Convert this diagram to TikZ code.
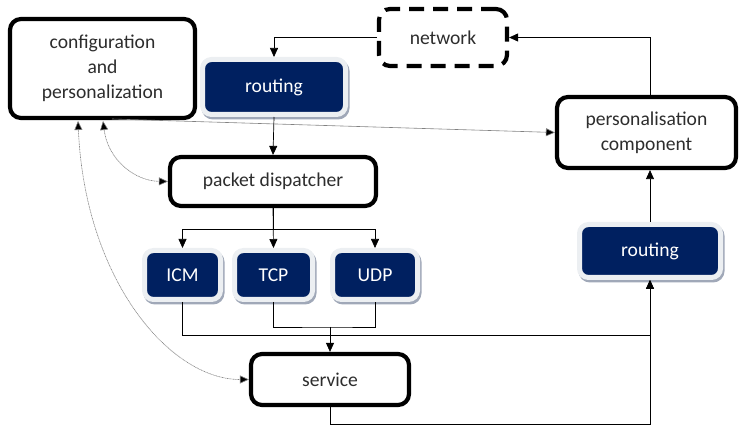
\documentclass[tikz,border=0pt]{standalone}
\usepackage{fontspec}
\setmainfont{Carlito}
\usetikzlibrary{arrows.meta,shadows}
\definecolor{navy}{RGB}{0,32,96}
\definecolor{halo}{RGB}{236,239,242}
\definecolor{shadowc}{RGB}{160,168,184}
\definecolor{txt}{RGB}{45,45,45}
\definecolor{conngray}{RGB}{130,130,130}
\tikzset{
  lbl/.style={font=\fontsize{19.6}{25}\selectfont, align=center},
  thickbox/.style={lbl, draw=black, line width=4.2pt, rounded corners=11pt, fill=white, text=txt, inner sep=0pt},
  dashbox/.style={thickbox, dash pattern=on 15pt off 9pt},
  navybox/.style={lbl, fill=navy, draw=halo, line width=5pt, rounded corners=9pt, text=white, inner sep=0pt,
     general shadow={fill=shadowc, draw=shadowc, line width=5pt, shadow xshift=1.5pt, shadow yshift=-2.5pt}},
  arr/.style={draw=black, line width=0.7pt, -{Triangle[length=9pt,width=8pt]}},
  plain/.style={draw=black, line width=0.7pt},
  grayarr/.style={draw=conngray, line width=0.6pt, -{Triangle[length=9pt,width=8pt,fill=black]}},
  dotarr/.style={draw=conngray, line width=0.6pt, dash pattern=on 1pt off 0.6pt, {Triangle[length=9pt,width=8pt,fill=black]}-{Triangle[length=9pt,width=8pt,fill=black]}},
}
\begin{document}
\begin{tikzpicture}[x=1pt, y=-1pt]
\useasboundingbox (0,0) rectangle (739,427);
% boxes
\node[thickbox, minimum width=185pt, minimum height=99pt] (config) at (102.5,68.5) {configuration\\and\\personalization};
\node[dashbox, minimum width=128pt, minimum height=57pt] (net) at (443,37.5) {network};
\node[thickbox, minimum width=206pt, minimum height=49pt] (disp) at (273,181.5) {packet dispatcher};
\node[thickbox, minimum width=179pt, minimum height=71pt] (pers) at (646.5,132.5) {personalisation\\component};
\node[thickbox, minimum width=158pt, minimum height=51pt] (serv) at (330,379.5) {service};
\node[navybox, minimum width=143pt, minimum height=55pt] (rout1) at (274,87) {routing};
\node[navybox, minimum width=76pt, minimum height=49pt] (icm) at (182.5,275) {ICM};
\node[navybox, minimum width=78pt, minimum height=49pt] (tcp) at (273.5,275) {TCP};
\node[navybox, minimum width=85pt, minimum height=49pt] (udp) at (375,275) {UDP};
\node[navybox, minimum width=141pt, minimum height=53pt] (rout2) at (650,251) {routing};
% helper coordinates
\coordinate (cA) at (78,121);
\coordinate (cB) at (103,121);
\coordinate (cC) at (112,119);
\coordinate (jn) at (330,327);
\coordinate (busy) at (0,335);
\coordinate (boty) at (0,424);
% connectors
\draw[arr] (net.west) -| (rout1.north);
\draw[arr] (rout1.south) -- (disp.north);
\draw[arr] (disp.south) -- (tcp.north);
\draw[arr] (disp.south) -- ++(0,21) -| (icm.north);
\draw[arr] (disp.south) -- ++(0,21) -| (udp.north);
\draw[plain] (tcp.south) |- (jn) -| (udp.south);
\draw[arr] (jn) -- (serv.north);
\draw[arr] (icm.south) |- (busy -| rout2.south) -- (rout2.south);
\draw[arr] (serv.south) -- (serv.south |- boty) -| (rout2.south);
\draw[arr] (rout2.north) -- (rout2.north |- pers.south);
\draw[arr] (rout2.north |- pers.north) |- (net.east);
\draw[grayarr] (cC) -- (pers.west);
\draw[dotarr] (cB) .. controls (108,160) and (135,181) .. (disp.west);
\draw[dotarr] (cA) .. controls (85,280) and (170,379.5) .. (serv.west);
\end{tikzpicture}
\end{document}
